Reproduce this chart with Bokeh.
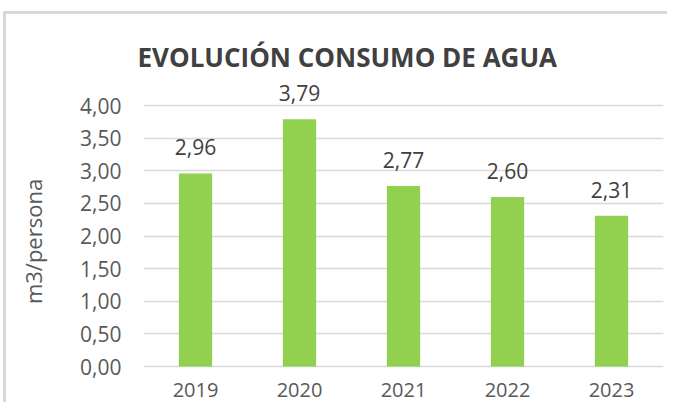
from bokeh.plotting import figure
from bokeh.models import (ColumnDataSource, Range1d, FixedTicker, CustomJSTickFormatter,
                          LabelSet)
from bokeh.core.properties import value
from bokeh.embed import file_html
from bokeh.resources import INLINE

years = ["2019", "2020", "2021", "2022", "2023"]
values = [2.96, 3.79, 2.77, 2.60, 2.31]
y_ticks = [0.0, 0.5, 1.0, 1.5, 2.0, 2.5, 3.0, 3.5, 4.0]
title_text = "EVOLUCIÓN CONSUMO DE AGUA"
y_label = "m3/persona"

labels = [f"{v:.2f}".replace(".", ",") for v in values]
src = ColumnDataSource(dict(x=years, top=values, lab=labels, base=[0] * len(years)))

FONT = "Open Sans"
BORDER = "#d9d9d9"

p = figure(width=667, height=402, x_range=years, y_range=Range1d(-0.552, 4.386),
           output_backend="svg", toolbar_location=None,
           min_border_left=143, min_border_right=4, min_border_top=80, min_border_bottom=0)
p.background_fill_color = "white"
p.border_fill_alpha = 0
p.outline_line_color = None
p.styles = {
    "background": (f"linear-gradient({BORDER},{BORDER}) 3px 11px / 3px 500px no-repeat, "
                   f"linear-gradient({BORDER},{BORDER}) 3px 11px / 800px 3px no-repeat, white"),
}

p.title.text = title_text
p.title.align = "left"
p.title.offset = -6
p.title.standoff = 12
p.title.text_font = FONT
p.title.text_font_size = "26px"
p.title.text_font_style = "bold"
p.title.text_color = "#404040"

p.vbar(x="x", top="top", width=0.32, source=src, fill_color="#92d050", line_color=None)

p.add_layout(LabelSet(x="x", y="top", text="lab", source=src, y_offset=18,
                      text_align="center", text_baseline="alphabetic",
                      text_font=value(FONT), text_font_size=value("21px"),
                      text_color=value("#404040")))

# year labels under the zero line
p.add_layout(LabelSet(x="x", y="base", text="x", source=src, y_offset=-30,
                      text_align="center", text_baseline="alphabetic",
                      text_font=value(FONT), text_font_size=value("20px"),
                      text_color=value("#595959")))

p.yaxis.ticker = FixedTicker(ticks=y_ticks)
p.yaxis.formatter = CustomJSTickFormatter(code="return tick.toFixed(2).replace('.', ',');")
p.yaxis.axis_line_color = None
p.yaxis.major_tick_line_color = None
p.yaxis.minor_tick_line_color = None
p.yaxis.major_tick_out = 0
p.yaxis.major_label_standoff = 22
p.yaxis.major_label_text_font = FONT
p.yaxis.major_label_text_font_size = "21px"
p.yaxis.major_label_text_color = "#595959"
p.yaxis.axis_label = y_label
p.yaxis.axis_label_text_font = FONT
p.yaxis.axis_label_text_font_size = "22px"
p.yaxis.axis_label_text_font_style = "normal"
p.yaxis.axis_label_text_color = "#595959"
p.yaxis.axis_label_standoff = 29

p.xaxis.visible = False

p.xgrid.grid_line_color = None
p.ygrid.ticker = FixedTicker(ticks=y_ticks)
p.ygrid.grid_line_color = "#d9d9d9"
p.ygrid.grid_line_width = 1.5

open("out.html", "w").write(file_html(p, INLINE))
